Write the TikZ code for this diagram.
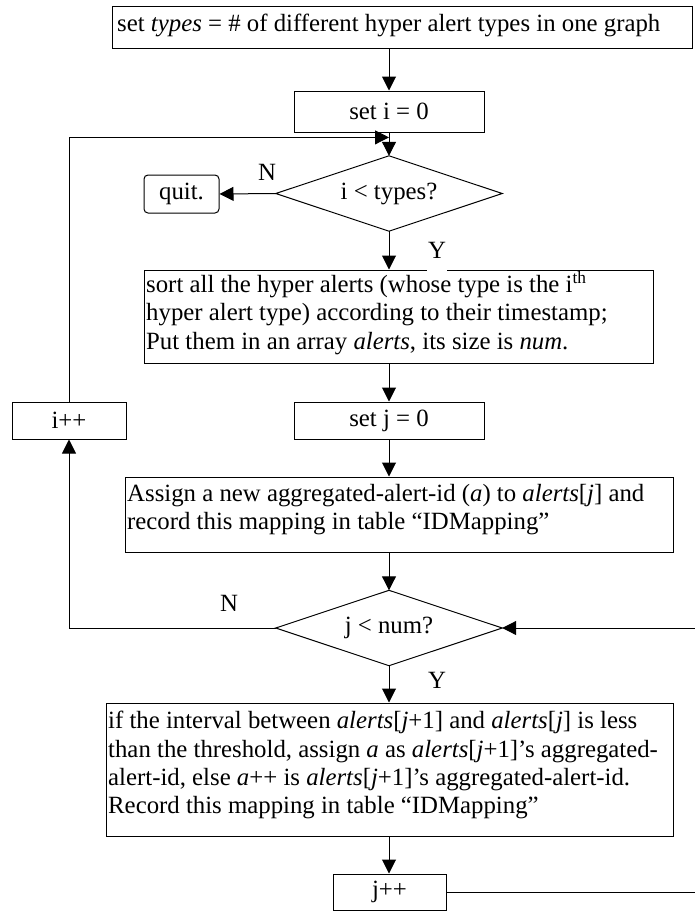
\documentclass[tikz,border=0pt]{standalone}
\usepackage{fontspec}
\setmainfont{Liberation Serif}
\usetikzlibrary{arrows.meta,calc}
\newcommand\fsz{\fontsize{24.8}{28.4}\selectfont}
\begin{document}
\begin{tikzpicture}[x=1pt,y=-1pt,
  font=\fsz,
  box/.style={draw,line width=1pt,inner sep=0pt},
  dec/.style={inner sep=0pt,minimum width=226pt,minimum height=75pt},
  decline/.style={line width=1pt,line join=miter},
  txt/.style={inner sep=0pt,anchor=north west,align=left},
  lab/.style={inner sep=0pt},
  arr/.style={line width=1pt,-{Triangle[length=14pt,width=14pt]}}]
\useasboundingbox (0,0) rectangle (695,911);
% boxes
\node[box,minimum width=580pt,minimum height=42pt] (top) at (402,27) {};
\node[inner sep=0pt,anchor=west] (toptxt) at (117,25.5) {set \textit{types} = \# of different hyper alert types in one graph};
\node[box,minimum width=190pt,minimum height=41pt] (seti) at (389,111.5) {set i = 0};
\node[dec] (d1) at (389,193.5) {i < types?};
\draw[decline] (d1.north) -- (d1.east) -- (d1.south) -- (d1.west) -- cycle;
\node[box,rounded corners=4pt,minimum width=75pt,minimum height=38pt] (quit) at (181.5,194) {quit.};
\node[box,minimum width=509pt,minimum height=93pt] (sort) at (398.5,316.5) {};
\node[txt] (sorttxt) at (146,271) {sort all the hyper alerts (whose type is the i\textsuperscript{th}\\hyper alert type) according to their timestamp;\\Put them in an array \textit{alerts}, its size is \textit{num}.};
\node[box,minimum width=114pt,minimum height=37pt] (ipp) at (69,420.5) {i++};
\node[box,minimum width=190pt,minimum height=37pt] (setj) at (389,420.5) {set j = 0};
\node[box,minimum width=548pt,minimum height=75pt] (assign) at (399,514.5) {};
\node[txt] (assigntxt) at (127,484) {Assign a new aggregated-alert-id (\textit{a}) to \textit{alerts}[\textit{j}] and\\record this mapping in table “IDMapping”};
\node[dec] (d2) at (389,628) {j < num?};
\draw[decline] (d2.north) -- (d2.east) -- (d2.south) -- (d2.west) -- cycle;
\node[box,minimum width=567pt,minimum height=133pt] (ifb) at (389.5,769.5) {};
\node[txt] (iftxt) at (108,711) {if the interval between \textit{alerts}[\textit{j}+1] and \textit{alerts}[\textit{j}] is less\\than the threshold, assign \textit{a} as \textit{alerts}[\textit{j}+1]’s aggregated-\\alert-id, else \textit{a}++ is \textit{alerts}[\textit{j}+1]’s aggregated-alert-id.\\Record this mapping in table “IDMapping”};
\node[box,minimum width=113pt,minimum height=36pt] (jpp) at (389.5,892) {j++};
% labels
\node[lab] (n1) at (267,172) {N};
\node[lab,fill=white,minimum width=20pt,minimum height=34pt] (y1) at (437,254) {\raisebox{7pt}{Y}};
\node[lab] (n2) at (229,603) {N};
\node[lab] (y2) at (437,680) {Y};
% connectors
\coordinate (mrg) at ($(seti.south)!0.21!(d1.north)$);
\coordinate (rt) at (699,0);
\draw[arr] (seti.north |- top.south) -- (seti.north);
\draw[arr] (seti.south) -- (d1.north);
\draw[arr] (ipp.north) |- (mrg);
\draw[arr] (d1.west) -- (quit.east);
\draw[arr] (d1.south) -- (d1.south |- sort.north);
\draw[arr] (setj.north |- sort.south) -- (setj.north);
\draw[arr] (setj.south) -- (setj.south |- assign.north);
\draw[arr] (d2.north |- assign.south) -- (d2.north);
\draw[arr] (d2.west) -| (ipp.south);
\draw[arr] (d2.south) -- (d2.south |- ifb.north);
\draw[arr] (d2.south |- ifb.south) -- (d2.south |- jpp.north);
\draw[arr] (jpp.east) -- (jpp.east -| rt) -- (rt |- d2.east) -- (d2.east);
\end{tikzpicture}
\end{document}
